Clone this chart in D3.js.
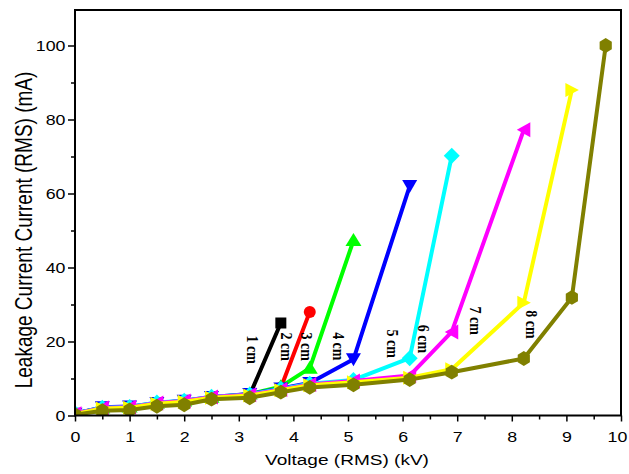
<!DOCTYPE html>
<html>
<head>
<meta charset="utf-8">
<script src="https://cdn.jsdelivr.net/npm/d3@7"></script>
<style>
html,body{margin:0;padding:0;background:#fff;}
svg{display:block;}
</style>
</head>
<body>
<svg id="chart" width="629" height="474"></svg>
<script>
// ---- data ----
const voltages = [0, 0.5, 1, 1.5, 2, 2.5, 3.2, 3.77, 4.3, 5.1, 6.13, 6.9, 8.22, 9.1, 9.72];
const gap1cm = [0.5, 2.0, 2.2, 3.3, 3.9, 4.9, 5.5, 25.0];
const gap2cm = [0.5, 2.1, 2.2, 3.2, 3.8, 4.8, 5.7, 7.5, 28.0];
const gap3cm = [0.6, 2.0, 2.3, 3.3, 3.9, 4.9, 5.8, 7.8, 12.8, 47.3];
const gap4cm = [0.5, 2.2, 2.4, 3.4, 4.0, 5.0, 5.8, 7.3, 8.8, 15.2, 62.0];
const gap5cm = [0.6, 2.1, 2.3, 3.5, 4.0, 5.1, 5.7, 7.2, 8.6, 9.6, 15.5, 70.2];
const gap6cm = [0.5, 2.0, 2.2, 3.4, 3.9, 5.0, 5.6, 7.0, 8.4, 9.3, 10.8, 22.6, 77.2];
const gap7cm = [0.4, 1.9, 2.1, 3.2, 3.7, 4.8, 5.4, 6.8, 8.2, 9.0, 10.2, 12.5, 30.5, 88.0];
const gap8cm = [0.2, 1.3, 1.5, 2.5, 2.9, 4.4, 4.8, 6.3, 7.6, 8.3, 9.7, 11.7, 15.4, 31.9, 100.0];
const seriesNames = ["1 cm", "2 cm", "3 cm", "4 cm", "5 cm", "6 cm", "7 cm", "8 cm"];
const seriesValues = [gap1cm, gap2cm, gap3cm, gap4cm, gap5cm, gap6cm, gap7cm, gap8cm];
const xTicks = [0, 1, 2, 3, 4, 5, 6, 7, 8, 9, 10];
const yTicks = [0, 20, 40, 60, 80, 100];
const xTitle = "Voltage (RMS) (kV)";
const yTitle = "Leakage Current Current (RMS) (mA)";
// label anchors in data units (kV, mA)
const labelX = [3.26, 3.88, 4.25, 4.83, 5.82, 6.39, 7.33, 8.36];
const labelY = [17.8, 18.6, 18.6, 18.7, 19.4, 20.7, 25.6, 24.6];

// ---- styles ----
const colors = ["#000000", "#ff0000", "#00ff00", "#0000ff", "#00ffff", "#ff00ff", "#ffff00", "#808000"];
const shapes = ["square", "circle", "up", "down", "diamond", "left", "right", "hex"];
const SX = 1.27; // horizontal text stretch

const svg = d3.select("#chart");
const L = 75, R = 621, T = 10, B = 415.5;
const x = d3.scaleLinear().domain([0, 10]).range([L, R]);
const y = d3.scaleLinear().domain([0, 100]).range([B, 45.5]);

svg.append("rect").attr("width", 629).attr("height", 474).attr("fill", "#fff");

svg.append("defs").append("clipPath").attr("id", "clip")
  .append("rect").attr("x", L).attr("y", T).attr("width", R - L).attr("height", B - T);

function shapePath(s) {
  switch (s) {
    case "square": return "M-5.5,-5.5H5.5V5.5H-5.5Z";
    case "circle": return "M6,0A6,6 0 1,1 -6,0A6,6 0 1,1 6,0Z";
    case "up": return "M0,-7.5L8,5.5L-8,5.5Z";
    case "down": return "M0,7L7.5,-6L-7.5,-6Z";
    case "diamond": return "M0,-8L8,0L0,8L-8,0Z";
    case "left": return "M-7,0L6.5,-7.5L6.5,7.5Z";
    case "right": return "M7,0L-6.5,-7L-6.5,7Z";
    case "hex": {
      const r = 7.4; let p = "";
      for (let i = 0; i < 6; i++) {
        const a = Math.PI / 3 * i - Math.PI / 2;
        p += (i ? "L" : "M") + (r * Math.cos(a) * 0.95).toFixed(2) + "," + (r * Math.sin(a)).toFixed(2);
      }
      return p + "Z";
    }
  }
}

const plot = svg.append("g").attr("clip-path", "url(#clip)");
const line = d3.line().x(d => x(d[0])).y(d => y(d[1]));

seriesValues.forEach((vals, i) => {
  const pts = vals.map((v, k) => [voltages[k], v]);
  const g = plot.append("g").attr("class", "series");
  g.append("path").datum(pts).attr("d", line)
    .attr("fill", "none").attr("stroke", colors[i]).attr("stroke-width", 4)
    .attr("stroke-linejoin", "round");
  g.selectAll("path.m").data(pts).enter().append("path").attr("class", "m")
    .attr("d", shapePath(shapes[i]))
    .attr("transform", d => `translate(${x(d[0])},${y(d[1])})`)
    .attr("fill", colors[i]);
});

// axes
const fontSans = "'Liberation Sans', Arial, sans-serif";
const yAxisMinor = d3.axisLeft(y).tickValues([10, 30, 50, 70, 90]).tickSize(4).tickFormat("");
const yAxis = d3.axisLeft(y).tickValues(yTicks).tickSize(7);
const xAxisMinor = d3.axisBottom(x).tickValues(d3.range(0.5, 10, 1)).tickSize(4).tickFormat("");
const xAxis = d3.axisBottom(x).tickValues(xTicks).tickSize(6).tickFormat(d3.format("d"));

function styleAxis(g) {
  g.select(".domain").remove();
  g.selectAll("line").attr("stroke", "#000").attr("stroke-width", 1.5);
}
svg.append("g").attr("transform", `translate(${L},0)`).call(yAxisMinor).call(styleAxis);
const gy = svg.append("g").attr("transform", `translate(${L},0)`).call(yAxis).call(styleAxis);
gy.selectAll("text").attr("x", null).attr("dy", null)
  .attr("transform", `translate(-9.5,5) scale(${SX},1)`)
  .attr("font-family", fontSans).attr("font-size", 14).attr("fill", "#000").attr("text-anchor", "end");
svg.append("g").attr("transform", `translate(0,${B})`).call(xAxisMinor).call(styleAxis);
const gx = svg.append("g").attr("transform", `translate(0,${B})`).call(xAxis).call(styleAxis);
gx.selectAll("text").attr("y", null).attr("dy", null)
  .attr("transform", d => `translate(${d === 10 ? -4 : 0},26) scale(${SX},1)`)
  .attr("font-family", fontSans).attr("font-size", 14).attr("fill", "#000").attr("text-anchor", "middle");

// frame
svg.append("rect").attr("x", L).attr("y", T).attr("width", R - L).attr("height", B - T)
  .attr("fill", "none").attr("stroke", "#000").attr("stroke-width", 2);

// titles
svg.append("text").text(xTitle)
  .attr("transform", `translate(${(L + R) / 2 - 1},465) scale(${SX},1)`)
  .attr("text-anchor", "middle").attr("font-family", fontSans).attr("font-size", 15).attr("fill", "#000");
svg.append("text").text(yTitle)
  .attr("transform", `translate(31.5,230) scale(${SX},1) rotate(-90)`)
  .attr("text-anchor", "middle").attr("font-family", fontSans).attr("font-size", 19).attr("fill", "#000");

// series labels
seriesNames.forEach((name, i) => {
  svg.append("text").text(name)
    .attr("transform", `translate(${x(labelX[i])},${y(labelY[i])}) scale(1.15,1) rotate(90)`)
    .attr("text-anchor", "middle").attr("dy", "0.35em")
    .attr("font-family", "'Liberation Serif', 'Times New Roman', serif")
    .attr("font-weight", "bold").attr("font-size", 14).attr("fill", "#000");
});
</script>
</body>
</html>
